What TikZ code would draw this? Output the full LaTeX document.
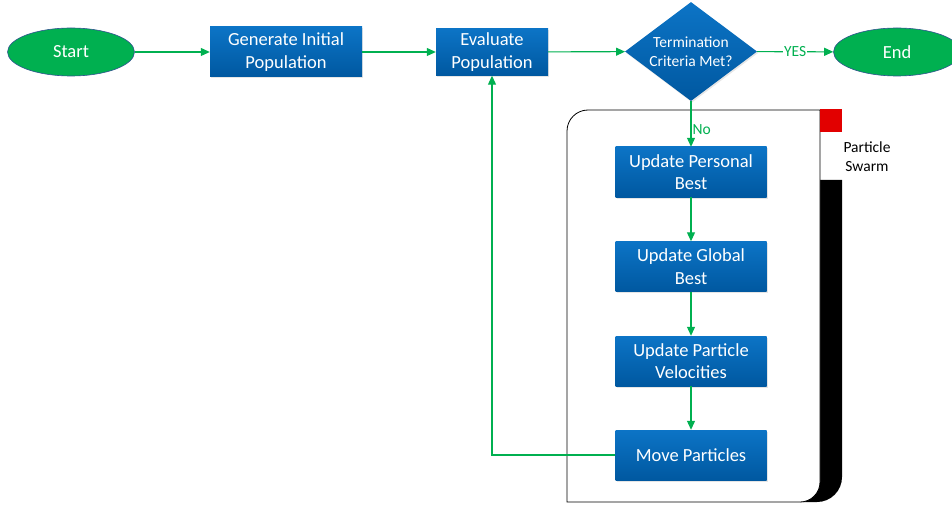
\documentclass[tikz,border=0pt]{standalone}
\usepackage{fontspec}
\setmainfont{Carlito}
\usetikzlibrary{shapes.geometric,arrows.meta,shadows}
\definecolor{boxtop}{RGB}{12,116,198}
\definecolor{boxbot}{RGB}{0,88,160}
\definecolor{flowgreen}{RGB}{0,176,80}
\definecolor{ellborder}{RGB}{47,82,143}
\definecolor{swarmred}{RGB}{226,0,0}
\begin{document}
\begin{tikzpicture}[x=1pt,y=-1pt,
  bigfont/.style={font=\fontsize{18.5}{22.5}\selectfont},
  smallfont/.style={font=\fontsize{15.5}{19}\selectfont},
  terminal/.style={ellipse, draw=ellborder, line width=0.6pt, fill=flowgreen, text=white,
    minimum width=127pt, minimum height=48pt, inner sep=0pt, bigfont},
  procbox/.style={rectangle, top color=boxtop, bottom color=boxbot, text=white, align=center,
    minimum width=151pt, minimum height=50pt, inner sep=0pt, bigfont,
    drop shadow={opacity=0.2, shadow xshift=1pt, shadow yshift=-1.5pt}},
  decision/.style={diamond, top color=boxtop, bottom color=boxbot,
    minimum width=132pt, minimum height=99pt, inner sep=0pt,
    drop shadow={opacity=0.2, shadow xshift=1pt, shadow yshift=-1.5pt}},
  decisiontext/.style={text=white, align=center, smallfont, inner sep=0pt},
  flow/.style={draw=flowgreen, line width=1.1pt, -{Triangle[length=9pt,width=8pt]}},
  flowlabel/.style={text=flowgreen, smallfont, inner sep=1pt}
]
\useasboundingbox (0,0) rectangle (952,505);

% container (Particle Swarm)
\fill[black] (800,180) -- (842,180) -- (842,477) arc[start angle=0,end angle=90,radius=25] -- (800,502) -- cycle;
\draw[fill=white, line width=0.8pt] (567,502) -- (567,131) arc[start angle=180,end angle=270,radius=21]
  -- (820,110) -- (820,482) arc[start angle=0,end angle=90,radius=20] -- cycle;
\fill[swarmred] (820,109) rectangle (842,132);
\node[align=center, smallfont, inner sep=0pt] (swarmlabel) at (867,157) {Particle\\Swarm};

% nodes
\node[terminal] (start) at (71,52) {Start};
\node[procbox, minimum width=152pt] (gen) at (286,52) {Generate Initial\\Population};
\node[procbox, minimum width=112pt, minimum height=47pt] (eval) at (492,52) {Evaluate\\Population};
\node[decision] (term) at (691,51.5) {};
\node[decisiontext] (termtext) at (term.center) {Termination\\Criteria Met?};
\node[terminal] (end) at (897,52) {End};

\node[procbox] (pbest) at (691,172) {Update Personal\\Best};
\node[procbox] (gbest) at (691,266.5) {Update Global\\Best};
\node[procbox] (vel) at (691,361) {Update Particle\\Velocities};
\node[procbox] (move) at (691,455) {Move Particles};

% connectors
\draw[flow] (start) -- (gen);
\draw[flow] (gen) -- (eval);
\draw[flow] (eval) -- (term);
\draw[flow] (term) -- node[flowlabel, fill=white] {YES} (end);
\draw[flow] (term) -- node[flowlabel, right, pos=0.62] {No} (pbest);
\draw[flow] (pbest) -- (gbest);
\draw[flow] (gbest) -- (vel);
\draw[flow] (vel) -- (move);
\draw[flow] (move.west) -| (eval.south);
\end{tikzpicture}
\end{document}
